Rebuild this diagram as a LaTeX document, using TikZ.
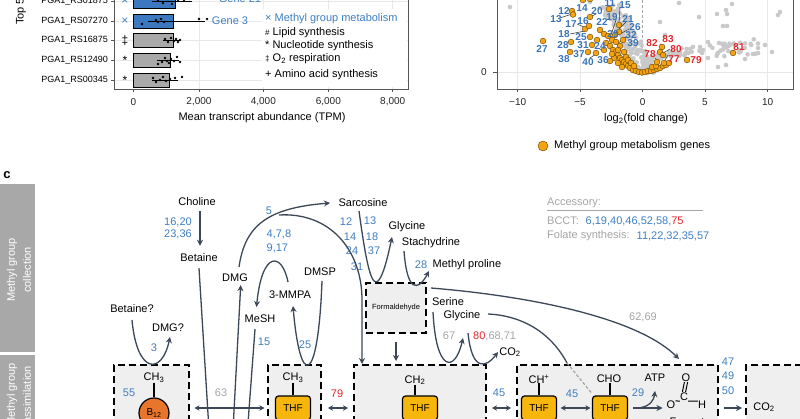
\documentclass[tikz,border=0pt]{standalone}
\usepackage{fontspec}
\setmainfont{Liberation Sans}
\usetikzlibrary{arrows.meta}
\definecolor{conn}{HTML}{3C4757}
\definecolor{numblue}{HTML}{3F7FC0}
\definecolor{numred}{HTML}{E3262C}
\definecolor{numgray}{HTML}{A5A5A5}
\definecolor{boxfill}{HTML}{EFEFEF}
\definecolor{thfcol}{HTML}{F6B60C}
\definecolor{b12col}{HTML}{E8752C}
\definecolor{bandcol}{HTML}{A8A8A8}
\definecolor{barblue}{HTML}{3B78BF}
\definecolor{bargray}{HTML}{A9A9A9}
\definecolor{orng}{HTML}{F5A30E}
\definecolor{gridc}{HTML}{E8E8E8}
\definecolor{axisc}{HTML}{555555}
\definecolor{gdot}{HTML}{C9C9C9}
\definecolor{volblue}{HTML}{3A74B8}
\begin{document}
\begin{tikzpicture}[x=1pt,y=-1pt,
  lbl/.style={font=\fontsize{11}{13}\selectfont, inner sep=0pt, text=black},
  nb/.style={lbl, text=numblue},
  nr/.style={lbl, text=numred},
  ng/.style={lbl, text=numgray},
  tick/.style={font=\fontsize{10}{12}\selectfont, inner sep=0pt, text=black!85},
  ln/.style={draw=conn, line width=1.3pt},
  arr/.style={ln, -{Stealth[length=6pt,width=6pt]}},
  dbl/.style={ln, {Stealth[length=5pt,width=5.5pt]}-{Stealth[length=5pt,width=5.5pt]}},
  dbox/.style={draw=black, fill=boxfill, line width=2pt, dash pattern=on 7pt off 4pt, inner sep=0pt},
  thf/.style={draw=black, fill=thfcol, line width=1.2pt, rounded corners=3pt, minimum width=35pt, minimum height=24pt, inner sep=0pt, font=\fontsize{10}{12}\selectfont},
  stem/.style={draw=black, line width=1.5pt},
  gridl/.style={draw=gridc, line width=0.8pt},
  frame/.style={draw=axisc, line width=0.8pt},
  vb/.style={font=\bfseries\fontsize{10}{12}\selectfont, inner sep=0pt, text=volblue},
  vr/.style={font=\bfseries\fontsize{10}{12}\selectfont, inner sep=0pt, text=numred},
  odot/.style={fill=orng, draw=black!60!orng, line width=0.4pt},
  lead/.style={draw=black!80, line width=0.5pt},
  bdot/.style={fill=black}
]
\useasboundingbox (0,0) rectangle (800,419);
\clip (0,0) rectangle (800,419);
\fill[white] (0,0) rectangle (800,419);

% ================= Panel a (bar chart) =================
\node[lbl, rotate=90, anchor=west] (topax) at (21,25) {Top 5};
\foreach \x in {199,263.3,328.3,392.7} \draw[gridl] (\x,-5) -- (\x,89);
\foreach \y in {1.5,21,40.5,60.5,80} \draw[gridl] (114,\y) -- (408,\y);
\fill[white] (262,9) rectangle (407,87);
\draw[frame] (114,-5) -- (114,89) -- (408,89) -- (408,-5);
\foreach \x/\t in {133.3/0,199/{2,000},263.3/{4,000},328.3/{6,000},392.7/{8,000}}{
  \draw[frame] (\x,89) -- (\x,92);
  \node[tick] (tx\x) at (\x,102) {\t};
}
\node[lbl] (xtitle) at (262,118) {Mean transcript abundance (TPM)};
% rows
\foreach \y/\g/\m/\c in {1.5/01875/{\textcolor{numblue}{×}}/a, 21/07270/{\textcolor{numblue}{×}}/b, 40.5/16875/{‡}/c, 60.5/12490/{*}/d, 80/00345/{*}/e}{
  \draw[frame] (111,\y) -- (114,\y);
  \node[font=\fontsize{9}{11}\selectfont, inner sep=0pt, anchor=east] (gene\c) at (108,\y) {PGA1\_RS\g};
  \node[font=\fontsize{12}{12}\selectfont, inner sep=0pt] (mk\c) at (125,\y) {\m};
}
\draw[fill=barblue, draw=black, line width=0.6pt] (133.3,-5.5) rectangle (175,8.5);
\draw[fill=barblue, draw=black, line width=0.6pt] (133.3,14) rectangle (173,28);
\draw[fill=bargray, draw=black, line width=0.6pt] (133.3,33.5) rectangle (173,47.5);
\draw[fill=bargray, draw=black, line width=0.6pt] (133.3,53.5) rectangle (170,67.5);
\draw[fill=bargray, draw=black, line width=0.6pt] (133.3,73) rectangle (169,87);
% whiskers
\draw[black, line width=0.7pt] (152,1.5) -- (192,1.5);
\draw[black, line width=0.7pt] (148,21) -- (205,21);
\draw[black, line width=0.7pt] (163,40.5) -- (180,40.5);
\draw[black, line width=0.7pt] (157,60.5) -- (179,60.5);
\draw[black, line width=0.7pt] (152,80) -- (178,80);
\foreach \x/\y in {158/0,163/3,168/-1,172/4,178/1,184/0,190/-1,
  142/24,156/20,158/22,161/19,164/22,199/19,207/19,
  165/39,168/42,171/38,174/41,176/39,178/42,180/40,
  158/64,162/62,165/58,167/61,169/63,171/59,174/61,177/57,180/62,
  153/78,156/82,160/80,163/77,166/81,170/79,175/78,182/77}
  \fill[bdot] (\x,\y) circle (1.3pt);
\node[lbl, text=numblue] (g21) at (240,-1) {Gene 21};
\node[lbl, text=numblue] (g3) at (230,21) {Gene 3};
% legend
\node[lbl, anchor=west, text=numblue] (lg1) at (265,19) {× Methyl group metabolism};
\node[lbl, anchor=west] (lg2) at (265,33) {{\fontsize{8}{8}\selectfont\#} Lipid synthesis};
\node[lbl, anchor=west] (lg3) at (265,46) {* Nucleotide synthesis};
\node[lbl, anchor=west] (lg4) at (265,59) {{\fontsize{8}{8}\selectfont‡} O\textsubscript{2} respiration};
\node[lbl, anchor=west] (lg5) at (265,75) {+ Amino acid synthesis};

% ================= Panel b (volcano) =================
\foreach \x in {517.7,580,705,767.7} \draw[gridl] (\x,-5) -- (\x,89);
\draw[gridl] (497,72.3) -- (793,72.3);
\draw[draw=numgray, line width=0.9pt, dash pattern=on 3pt off 2pt] (642.7,-5) -- (642.7,72);
\begin{scope}
\clip (498,-2) rectangle (792,88);
\pgfmathsetseed{12}
\foreach \i in {1,...,170}{
  \pgfmathsetmacro{\myt}{rnd}
  \pgfmathsetmacro{\xx}{643-36*\myt+20*(rnd-0.3)}
  \pgfmathsetmacro{\yy}{72-66*\myt+6*(rnd-0.5)}
  \fill[gdot] (\xx,\yy) circle (2.3pt);
}
\foreach \i in {1,...,110}{
  \pgfmathsetmacro{\myt}{rnd}
  \pgfmathsetmacro{\xx}{644+115*\myt*\myt}
  \pgfmathsetmacro{\yy}{71-24*sqrt(\myt)+18*(rnd-0.5)*\myt}
  \fill[gdot] (\xx,\yy) circle (2.3pt);
}
\foreach \x/\y in {510/7,679/3,699/17,717/14,726/10,732/4,727/14,723/26,727/26,778/15,780/12,
  708/42,719/43,730/45,740/50,745/59,753/54,758/48,718/67,726/65,700/47,693/47,703/50,708/58,
  765/45,772/52,660/22,665/35,600/8,590/2}
  \fill[gdot] (\x,\y) circle (2.3pt);
% leader lines
\draw[lead] (560,18) -- (572,14);
\draw[lead] (577,24) -- (586,28);
\draw[lead] (570,34) -- (585,31);
\draw[lead] (596,14) -- (590,17);
\draw[lead] (616,20) -- (610,38);
\draw[lead] (626,22) -- (619,29);
\draw[lead] (629,29) -- (620,34);
\draw[lead] (626,37) -- (617,44);
\draw[lead] (598,48) -- (604,51);
\draw[lead] (590,58) -- (596,54);
\draw[lead] (620,7) -- (619,24);
\draw[lead] (655,58) -- (659,63);
\draw[lead] (668,55) -- (664,62);
\draw[lead] (670,49) -- (663,53);
\draw[lead] (660,44) -- (662,47);
% orange dots
\foreach \x/\y in {543/41,572/11,573/14.5,590/17,609/9,585/29,589/26,590/37,571/42,570/52,588/52,596/53,592/45,604/50,
  600/30,604/34,619/25,619/32,612/40,597/40,583/0,590/-1,
  606/43,610/46,613/50,616/52,618/55,620/58,622/60,624/62,626/64,628/66,630/68,633/70,636/71,639/72,642/72.5,645/72,648/71,
  651/71,654/70,657/69,660/68,663/66,666/65,669/63,614/58,618/63,622/67,612/54,626/57,620/46,616/42,624/52,628/60,631/63,
  608/36,615/35,623/40,618/50,610/61,634/66,652/67,656/66,
  733/53,687/60,662/47,660/52,663/55,657/62,664/63}
  \filldraw[odot] (\x,\y) circle (2.9pt);
\end{scope}
\foreach \n/\x/\y in {27/542/49, 12/564/11, 13/556/19, 14/582/8, 20/597/11, 11/610/3, 15/625/5, 17/571/24, 16/583/21,
  22/602/22, 19/612/17, 21/628/19, 26/635/27, 18/564/34, 25/581/37, 29/613/34, 32/631/35, 28/563/45, 31/583/45,
  24/600/46, 39/633/43, 37/579/54, 38/564/59, 40/588/62, 36/603/60}
  \node[vb] (vb\n) at (\x,\y) {\n};
\foreach \n/\x/\y in {82/652/43, 83/668/39, 78/650/54, 80/676/49, 77/674/59, 79/696/60, 81/739/47}
  \node[vr] (vr\n) at (\x,\y) {\n};
\draw[frame] (497,-5) -- (497,89) -- (793,89) -- (793,-5);
\draw[frame] (493,72.3) -- (497,72.3);
\node[tick] (y0) at (484,72.3) {0};
\foreach \x/\t in {517.7/−10,580/−5,642.7/0,705/5,767.7/10}{
  \draw[frame] (\x,89) -- (\x,92);
  \node[tick] (vt\x) at (\x,102) {\t};
}
\node[lbl] (vtitle) at (646,119) {log\textsubscript{2}(fold change)};
\filldraw[odot] (543,146) circle (5pt);
\node[lbl, anchor=west] (vleg) at (554,146) {Methyl group metabolism genes};

% ================= Panel c =================
\node[font=\bfseries\fontsize{13}{13}\selectfont, inner sep=0pt] (plc) at (7,175) {c};
\fill[bandcol] (0,184.3) rectangle (34.7,351.7);
\fill[bandcol] (0,355) rectangle (34.7,430);
\node[lbl, text=white, rotate=90] (bd1a) at (12,270) {Methyl group};
\node[lbl, text=white, rotate=90] (bd1b) at (27,270) {collection};
\node[lbl, text=white, rotate=90] (bd2a) at (12,395) {Methyl group};
\node[lbl, text=white, rotate=90] (bd2b) at (27,395) {assimilation};

% boxes
\node[dbox, anchor=north west, minimum width=75pt, minimum height=70pt] (b12box) at (113,364) {};
\node[dbox, anchor=north west, minimum width=53pt, minimum height=70pt] (ch3box) at (267,364) {};
\node[dbox, anchor=north west, minimum width=132pt, minimum height=70pt] (ch2box) at (353,364) {};
\node[dbox, anchor=north west, minimum width=201pt, minimum height=70pt] (rbox) at (516,364) {};
\node[dbox, anchor=north west, minimum width=70pt, minimum height=70pt] (co2box) at (745,364) {};
\node[dbox, minimum width=60pt, minimum height=50pt, font=\fontsize{7.5}{9}\selectfont] (form) at (396,308) {Formaldehyde};

% collection texts
\node[lbl] (choline) at (197,202) {Choline};
\node[lbl] (betaine) at (199,258) {Betaine};
\node[nb] (n1620) at (178,222) {16,20};
\node[nb] (n2336) at (178,234.5) {23,36};
\node[nb] (n5) at (269,211) {5};
\node[nb, anchor=west] (n478) at (266.5,234) {4,7,8};
\node[nb, anchor=west] (n917) at (266.5,248) {9,17};
\node[lbl] (dmg) at (235,278) {DMG};
\node[lbl] (sarc) at (363,203) {Sarcosine};
\node[lbl] (mmpa) at (290,295) {3-MMPA};
\node[lbl] (dmsp) at (320,272) {DMSP};
\node[lbl] (mesh) at (260,319) {MeSH};
\node[nb] (n15) at (264,342) {15};
\node[nb] (n25) at (305,345) {25};
\node[lbl] (betq) at (132,309) {Betaine?};
\node[lbl] (dmgq) at (168,328) {DMG?};
\node[nb] (n3) at (154,348) {3};
\node[nb] (n12) at (346,222) {12};
\node[nb] (n13) at (370,221) {13};
\node[nb] (n14) at (350,237) {14};
\node[nb] (n18) at (372,237) {18};
\node[nb] (n24) at (352,251) {24};
\node[nb] (n37) at (374,251) {37};
\node[nb] (n31) at (357,267) {31};
\node[lbl] (gly1) at (407,227) {Glycine};
\node[lbl] (stach) at (431,243) {Stachydrine};
\node[nb] (n28) at (421,265) {28};
\node[lbl, anchor=west] (mpro) at (432.5,265) {Methyl proline};
\node[lbl] (serine) at (448,302) {Serine};
\node[lbl] (gly2) at (462,316) {Glycine};
\node[ng] (n67) at (449,336) {67};
\node[ng, anchor=west] (n80) at (473,336) {\textcolor{numred}{80},68,71};
\node[lbl] (co2a) at (510,352) {CO\textsubscript{2}};
\node[ng] (n6269) at (643,317) {62,69};

% accessory
\node[ng, anchor=west] (acc) at (547,203) {Accessory:};
\draw[draw=numgray, line width=0.8pt] (547,210.5) -- (703,210.5);
\node[ng, anchor=west] (bcct) at (547,221) {BCCT:};
\node[nb, anchor=west] (bcctn) at (585.5,221) {6,19,40,46,52,58,\textcolor{numred}{75}};
\node[ng, anchor=west] (fol) at (547,236) {Folate synthesis:};
\node[nb, anchor=west] (foln) at (636.5,236) {11,22,32,35,57};

% assimilation contents
\node[lbl] (ch3a) at (154,378) {CH\textsubscript{3}};
\node[circle, draw=black, fill=b12col, line width=1.2pt, minimum size=30pt, inner sep=0pt, font=\fontsize{10}{12}\selectfont] (b12) at (154,413) {B\textsubscript{12}};
\draw[stem] (ch3a.south) -- (b12.north);
\node[nb] (n55) at (129,393) {55};
\node[ng] (n63) at (221,393) {63};
\node[lbl] (ch3b) at (293,378) {CH\textsubscript{3}};
\node[thf] (thfA) at (293,408) {THF};
\draw[stem] (ch3b.south) -- (thfA.north);
\node[nr] (n79) at (337,394) {79};
\node[lbl] (ch2) at (415,380) {CH\textsubscript{2}};
\node[thf] (thfB) at (420,408) {THF};
\draw[stem] ([xshift=0pt]ch2.south) -- (ch2.south |- thfB.north);
\node[nb] (n45a) at (499,393) {45};
\node[lbl] (chp) at (539,379) {CH\textsuperscript{+}};
\node[thf] (thfC) at (539,408) {THF};
\draw[stem] (chp.south -| thfC.north) -- (thfC.north);
\node[nb] (n45b) at (572,394) {45};
\node[lbl] (cho) at (609,379) {CHO};
\node[thf] (thfD) at (610,408) {THF};
\draw[stem] (cho.south -| thfD.north) -- (thfD.north);
\node[nb] (n29) at (638,393) {29};
\node[lbl] (atp) at (655,378) {ATP};
\node[lbl] (oT) at (686,378) {O};
\node[lbl] (cC) at (684,397) {C};
\node[lbl] (oL) at (671,405) {O};
\node[lbl] (hH) at (702,405) {H};
\draw[black, line width=1pt] ([xshift=-1.6pt]oT.south) -- ([xshift=-1.6pt,yshift=1pt]cC.north);
\draw[black, line width=1pt] ([xshift=1.6pt]oT.south) -- ([xshift=1.6pt,yshift=1pt]cC.north);
\draw[black, line width=1pt] (cC.south west) -- (oL.north east);
\draw[black, line width=1pt] (cC.south east) -- (hH.north west);
\node[lbl, anchor=base] (formate) at (690,425) {Formate};
\node[nb] (n47) at (728,362) {47};
\node[nb] (n49) at (728,376) {49};
\node[nb] (n50) at (728,391) {50};
\node[lbl] (co2b) at (764,407) {CO\textsubscript{2}};

% ---- connectors ----
\draw[arr] ([yshift=-5pt]choline.south -| 200,0) -- ([yshift=8pt]betaine.north -| 200,0);
\coordinate (bdown) at (209,430);
\draw[ln] ([yshift=-6pt]betaine.south) -- (bdown);
\coordinate (dmgup) at (233,430);
\draw[arr] (dmgup) -- ([yshift=-3pt]dmg.south -| 240.7,0);
\coordinate (meshdown) at (247.5,430);
\draw[ln] ([yshift=-6pt]mesh.south -| 255,0) -- (meshdown);
% DMG -> Sarcosine (5)
\coordinate (pDMGtop) at (239,267);
\coordinate (pSarcIn) at (330,203);
\draw[arr] (pDMGtop) .. controls (245,225) and (268,208) .. (pSarcIn);
% big curve to CH2 box
\coordinate (pBig) at (279,215);
\coordinate (pBigEnd) at (362,300);
\draw[arr] (pBig) .. controls (330,212) and (362,250) .. (pBigEnd) -- (pBigEnd |- ch2box.north);
% 4,7,8 inverted U: 3-MMPA -> MeSH
\coordinate (pMMtop) at (288,282);
\coordinate (pMeSHin) at (256.5,307);
\draw[arr] (pMMtop) .. controls (282,252) and (262,250) .. (pMeSHin);
% DMSP -> 3-MMPA (25)
\coordinate (pDMSP) at (322,281);
\coordinate (pMMin) at (293,306);
\draw[arr] (pDMSP) .. controls (318,388) and (300,388) .. (pMMin);
% Betaine? -> DMG? (3)
\coordinate (pBq) at (132,320);
\coordinate (pDq) at (170,337);
\draw[arr] (pBq) .. controls (137,375) and (162,375) .. (pDq);
% Sarcosine -> Formaldehyde -> Glycine
\coordinate (pS1) at (359,211);
\coordinate (pSbot) at (376,282);
\coordinate (pGly) at (392,237);
\draw[arr] (pS1) .. controls (365,255) and (370,282) .. (pSbot) .. controls (382,282) and (388,256) .. (pGly);
% Stachydrine -> Methyl proline (28)
\coordinate (pSt) at (404,251);
\coordinate (pMp) at (429,271);
\draw[arr] (pSt) .. controls (407,292) and (418,292) .. (pMp);
% Formaldehyde -> CH2 box
\draw[arr] ([yshift=-8pt]form.south) -- ([yshift=3pt]form.south |- ch2box.north);
% Formaldehyde -> Formate (62,69)
\coordinate (pF1) at (431,288);
\coordinate (pF2) at (679,359);
\draw[arr] (pF1) .. controls (540,297) and (640,320) .. (pF2);
% Serine -> Glycine (67)
\coordinate (pSer) at (433,312);
\coordinate (pGly2) at (463,338);
\draw[arr] (pSer) .. controls (436,373) and (455,373) .. (pGly2);
% Glycine -> CO2 (80,68,71)
\coordinate (pG3) at (468,333);
\coordinate (pCO2) at (498,352);
\draw[arr] (pG3) .. controls (472,372) and (486,368) .. (pCO2);
% Glycine -> CHO-THF
\coordinate (pG4) at (488,314);
\coordinate (pG5) at (567,363);
\draw[ln] (pG4) .. controls (530,316) and (555,340) .. (pG5);
\draw[draw=numgray, line width=1.2pt, dash pattern=on 3pt off 2pt] (pG5) -- ([yshift=2pt]thfD.north west);
% double arrows
\draw[dbl, shorten <=4.5pt, shorten >=2.5pt] (b12box.east |- thfA.center) -- (ch3box.west |- thfA.center);
\draw[dbl, shorten <=6pt, shorten >=5pt] (ch3box.east |- thfA.center) -- (ch2box.west |- thfA.center);
\draw[dbl, shorten <=5pt, shorten >=5pt] (ch2box.east |- thfB.center) -- (rbox.west |- thfB.center);
\draw[dbl, shorten <=3.5pt, shorten >=1.5pt] (thfC.east) -- (thfD.west);
\draw[arr, shorten <=5pt, shorten >=4pt] (thfD.east) -- (oL.west |- thfD.center);
\coordinate (pAtpS) at (641,407.5);
\draw[arr] (pAtpS) .. controls (650,406) and (654,400) .. ([yshift=-9pt]atp.south);
\draw[arr, shorten <=5pt, shorten >=3pt] (rbox.east |- thfD.center) -- (co2box.west |- thfD.center);
\end{tikzpicture}
\end{document}
